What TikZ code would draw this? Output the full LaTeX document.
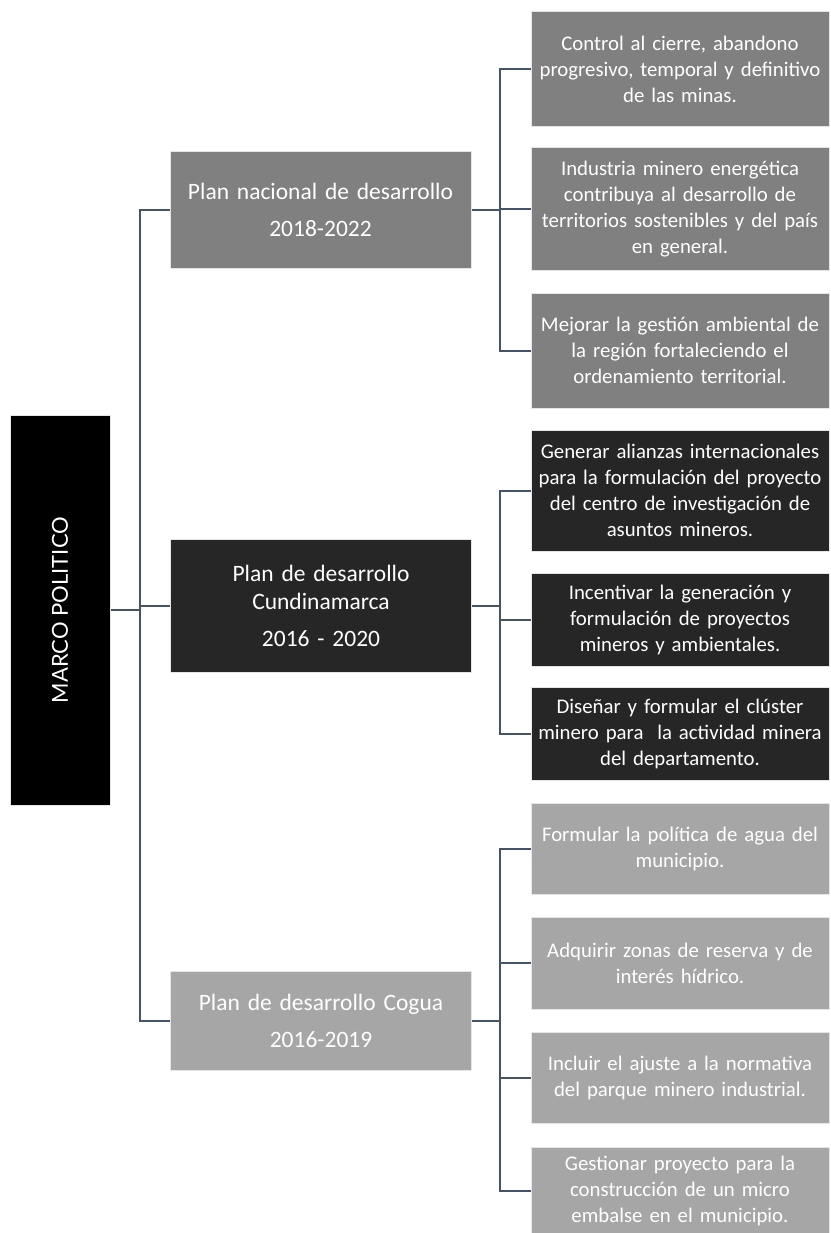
\documentclass[tikz,border=0pt]{standalone}
\usepackage{fontspec}
\setmainfont{Carlito}
\newfontfamily\rootfont{Lato}
\definecolor{linec}{HTML}{44546A}
\definecolor{gmid}{HTML}{808080}
\definecolor{gdark}{HTML}{262626}
\definecolor{glight}{HTML}{A6A6A6}
\definecolor{bord}{HTML}{E6E6E6}
\newcommand\kidfnt{\fontsize{20.8}{26}\selectfont\hyphenpenalty=10000\relax}
\newcommand\mainfnt{\fontsize{23.5}{28}\selectfont\hyphenpenalty=10000\relax}
\begin{document}
\begin{tikzpicture}[x=1pt,y=-1pt,
  box/.style={draw=bord,line width=1pt,text=white,align=center,inner sep=0pt},
  mainbox/.style={box,minimum width=301,text width=298,font=\mainfnt},
  kidbox/.style={box,minimum width=298,text width=298,font=\kidfnt},
  conn/.style={draw=linec,line width=2pt}]
\useasboundingbox (0,0) rectangle (830,1233);
% root
\node[draw=bord,line width=1pt,fill=black,minimum width=100,minimum height=390,inner sep=0pt] (root) at (60,610) {};
\node[rotate=90,text=white,font=\rootfont\fontsize{22}{26}\selectfont] (rootlbl) at (root.center) {MARCO POLITICO};
% level 1
\node[mainbox,fill=gmid,minimum height=116] (pn) at (320.5,210) {Plan nacional de desarrollo\\[9pt]2018-2022};
\node[mainbox,fill=gdark,minimum height=133] (cu) at (321,605.5) {Plan de desarrollo\\Cundinamarca\\[9pt]2016 - 2020};
\node[mainbox,fill=glight,minimum height=99] (cg) at (321,1020.5) {Plan de desarrollo Cogua\\[9pt]2016-2019};
% level 2 - nacional
\node[kidbox,fill=gmid,minimum height=115] (n1) at (680,69.5) {Control al cierre, abandono\\progresivo, temporal y definitivo\\de las minas.};
\node[kidbox,fill=gmid,minimum height=122] (n2) at (680,209) {Industria minero energética\\contribuya al desarrollo de\\territorios sostenibles y del país\\en general.};
\node[kidbox,fill=gmid,minimum height=115] (n3) at (680,350.5) {Mejorar la gestión ambiental de\\la región fortaleciendo el\\ordenamiento territorial.};
% level 2 - Cundinamarca
\node[kidbox,fill=gdark,minimum height=121] (c1) at (680,490.5) {Generar alianzas internacionales\\para la formulación del proyecto\\del centro de investigación de\\asuntos mineros.};
\node[kidbox,fill=gdark,minimum height=93] (c2) at (680,619.5) {Incentivar la generación y\\formulación de proyectos\\mineros y ambientales.};
\node[kidbox,fill=gdark,minimum height=93] (c3) at (680,733.5) {Diseñar y formular el clúster\\minero para\ \ la actividad minera\\del departamento.};
% level 2 - Cogua
\node[kidbox,fill=glight,minimum height=91] (g1) at (680,848.5) {Formular la política de agua del\\municipio.};
\node[kidbox,fill=glight,minimum height=92] (g2) at (680,963) {Adquirir zonas de reserva y de\\interés hídrico.};
\node[kidbox,fill=glight,minimum height=91] (g3) at (680,1077.5) {Incluir el ajuste a la normativa\\del parque minero industrial.};
\node[kidbox,fill=glight,minimum height=88] (g4) at (680,1191) {Gestionar proyecto para la\\construcción de un micro\\embalse en el municipio.};
% spines
\coordinate (sp) at (140,0);
\coordinate (s1) at (500,0);
\path[conn] (root.east) -- (root.east -| sp);
\path[conn] (pn.west) -- (pn.west -| sp) -- (cg.west -| sp) -- (cg.west);
\path[conn] (cu.west) -- (cu.west -| sp);
% nacional children
\path[conn] (pn.east) -- (pn.east -| s1);
\path[conn] (n1.west) -- (n1.west -| s1) -- (n3.west -| s1) -- (n3.west);
\path[conn] (n2.west) -- (n2.west -| s1);
% cundinamarca children
\path[conn] (cu.east) -- (cu.east -| s1);
\path[conn] (c1.west) -- (c1.west -| s1) -- (c3.west -| s1) -- (c3.west);
\path[conn] (c2.west) -- (c2.west -| s1);
% cogua children
\path[conn] (cg.east) -- (cg.east -| s1);
\path[conn] (g1.west) -- (g1.west -| s1) -- (g4.west -| s1) -- (g4.west);
\path[conn] (g2.west) -- (g2.west -| s1);
\path[conn] (g3.west) -- (g3.west -| s1);
\end{tikzpicture}
\end{document}
